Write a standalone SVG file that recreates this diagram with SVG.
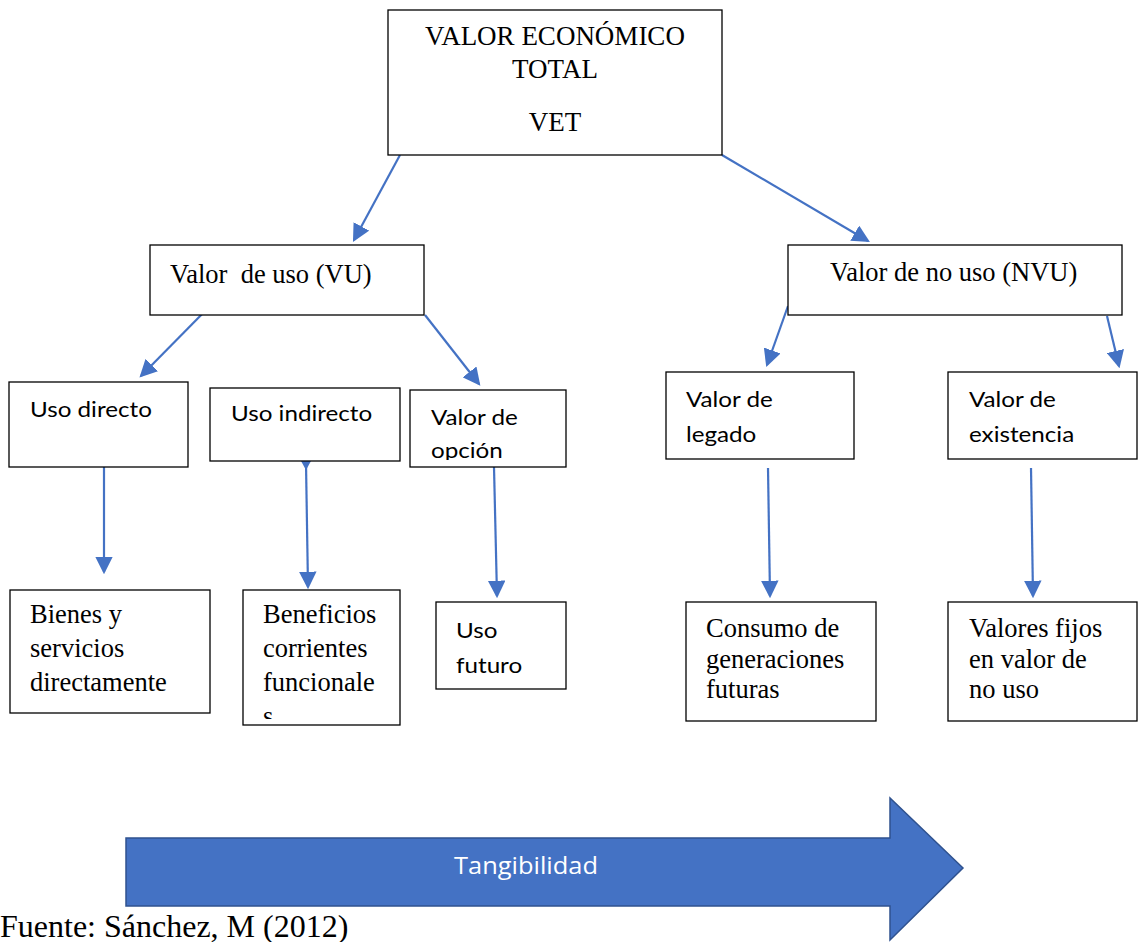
<svg xmlns="http://www.w3.org/2000/svg" width="1138" height="942" viewBox="0 0 1138 942">
<style>
.box{fill:#fff;stroke:#000;stroke-width:1.3}
.serif{font-family:"Liberation Serif","Times New Roman",serif;font-size:26.5px;fill:#000}
.sans{font-family:Lato,"Liberation Sans",sans-serif;font-size:22px;fill:#000}
.conn{stroke:#4472C4;stroke-width:2.2;fill:none;marker-end:url(#ah)}
</style>
<defs>
<marker id="ah" markerWidth="8" markerHeight="8" refX="7" refY="4" orient="auto" markerUnits="strokeWidth">
<path d="M0,0 L8,4 L0,8 Z" fill="#4472C4"/>
</marker>
<clipPath id="cOp"><rect x="410" y="390" width="156" height="70"/></clipPath>
<clipPath id="cBen"><rect x="243" y="590" width="157" height="129"/></clipPath>
</defs>
<g id="connectors">
<line class="conn" x1="400" y1="155" x2="354" y2="240"/>
<line class="conn" x1="722" y1="155" x2="868" y2="241"/>
<line class="conn" x1="210" y1="306" x2="141" y2="376"/>
<line class="conn" x1="425" y1="315" x2="479" y2="384"/>
<line class="conn" x1="104" y1="467" x2="104" y2="572"/>
<line class="conn" x1="306" y1="463" x2="308" y2="587"/>
<path d="M301,461 L311,461 L306,470 Z" fill="#4472C4"/>
<line class="conn" x1="494" y1="467" x2="497" y2="596"/>
<line class="conn" x1="788" y1="306" x2="767" y2="365"/>
<line class="conn" x1="1107" y1="316" x2="1119" y2="366"/>
<line class="conn" x1="768" y1="468" x2="770" y2="596"/>
<line class="conn" x1="1031" y1="468" x2="1033" y2="596"/>
</g>
<g id="vet">
<rect class="box" x="388" y="10" width="334" height="145"/>
<text class="serif" x="555" y="45" text-anchor="middle" style="font-size:27px">VALOR ECONÓMICO</text>
<text class="serif" x="555" y="78" text-anchor="middle" style="font-size:27px">TOTAL</text>
<text class="serif" x="555" y="131" text-anchor="middle" style="font-size:27px">VET</text>
</g>
<g id="vu">
<rect class="box" x="150" y="245" width="274" height="70"/>
<text class="serif" x="170" y="283" xml:space="preserve">Valor  de uso (VU)</text>
</g>
<g id="nvu">
<rect class="box" x="788" y="245" width="334" height="70"/>
<text class="serif" x="830" y="281">Valor de no uso (NVU)</text>
</g>
<g id="uso-directo">
<rect class="box" x="9" y="382" width="179" height="85"/>
<text class="sans" transform="translate(30,417) scale(1.1,1)">Uso directo</text>
</g>
<g id="uso-indirecto">
<rect class="box" x="210" y="388" width="190" height="73"/>
<text class="sans" transform="translate(231,421) scale(1.1,1)">Uso indirecto</text>
</g>
<g id="valor-opcion">
<rect class="box" x="410" y="390" width="156" height="77"/>
<text class="sans" transform="translate(431,425) scale(1.1,1)">Valor de</text>
<g clip-path="url(#cOp)">
<text class="sans" transform="translate(431,458) scale(1.1,1)">opción</text>
</g>
</g>
<g id="valor-legado">
<rect class="box" x="666" y="372" width="188" height="87"/>
<text class="sans" transform="translate(686,407) scale(1.1,1)">Valor de</text>
<text class="sans" transform="translate(686,442) scale(1.1,1)">legado</text>
</g>
<g id="valor-existencia">
<rect class="box" x="948" y="372" width="189" height="87"/>
<text class="sans" transform="translate(969,407) scale(1.1,1)">Valor de</text>
<text class="sans" transform="translate(969,442) scale(1.1,1)">existencia</text>
</g>
<g id="bienes">
<rect class="box" x="10" y="590" width="200" height="123"/>
<text class="serif" x="30" y="623">Bienes y</text>
<text class="serif" x="30" y="657">servicios</text>
<text class="serif" x="30" y="691">directamente</text>
</g>
<g id="beneficios">
<rect class="box" x="243" y="590" width="157" height="135"/>
<g clip-path="url(#cBen)">
<text class="serif" x="263" y="623">Beneficios</text>
<text class="serif" x="263" y="657">corrientes</text>
<text class="serif" x="263" y="691">funcionale</text>
<text class="serif" x="263" y="725">s</text>
</g>
</g>
<g id="uso-futuro">
<rect class="box" x="436" y="602" width="130" height="87"/>
<text class="sans" transform="translate(456,638) scale(1.1,1)">Uso</text>
<text class="sans" transform="translate(456,673) scale(1.1,1)">futuro</text>
</g>
<g id="consumo">
<rect class="box" x="686" y="602" width="190" height="119"/>
<text class="serif" x="706" y="637">Consumo de</text>
<text class="serif" x="706" y="668">generaciones</text>
<text class="serif" x="706" y="698">futuras</text>
</g>
<g id="valores-fijos">
<rect class="box" x="948" y="602" width="189" height="119"/>
<text class="serif" x="969" y="637">Valores fijos</text>
<text class="serif" x="969" y="668">en valor de</text>
<text class="serif" x="969" y="698">no uso</text>
</g>
<g id="tangibilidad">
<path d="M126,838 L890,838 L890,798 L963,868 L890,940 L890,906 L126,906 Z" fill="#4472C4" stroke="#2F528F" stroke-width="1.5"/>
<text transform="translate(526,874) scale(1.06,1)" text-anchor="middle" font-family="'Open Sans','Noto Sans',sans-serif" font-size="24" fill="#fff">Tangibilidad</text>
</g>
<text x="0" y="937" font-family="'Liberation Serif','Times New Roman',serif" font-size="32" fill="#000">Fuente: Sánchez, M (2012)</text>
</svg>
